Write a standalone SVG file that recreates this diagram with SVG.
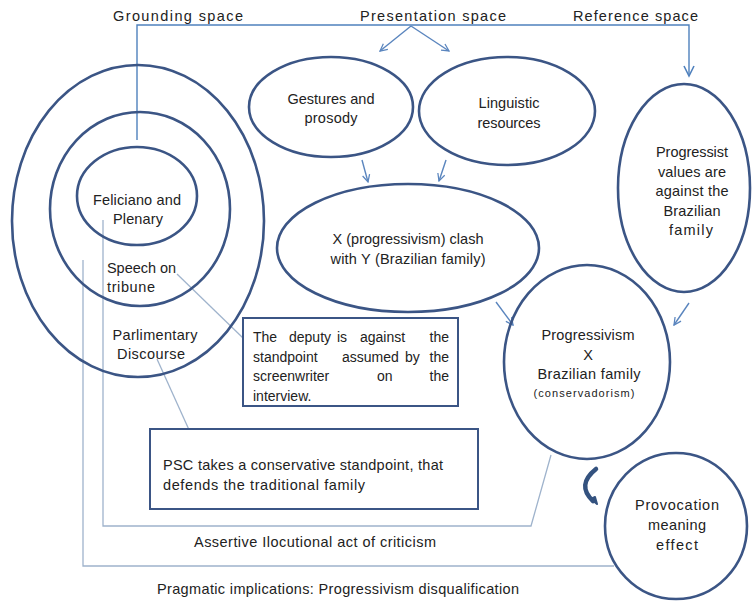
<svg xmlns="http://www.w3.org/2000/svg" width="752" height="601" viewBox="0 0 752 601">
<defs>
<style>
text{font-family:"Liberation Sans",Arial,sans-serif;font-size:14.5px;fill:#222;}
.c{text-anchor:middle;}
.el{fill:none;stroke:#3b5585;stroke-width:2.6;}
.box{fill:#fff;stroke:#3b5585;stroke-width:2;}
.ln{fill:none;stroke:#4f81bd;stroke-width:1.4;}
.lt{fill:none;stroke:#9fb3cc;stroke-width:1.3;}
.ar{fill:none;stroke:#5a85be;stroke-width:1.4;}
.bx{font-size:14px;}
</style>
<marker id="ah" viewBox="0 0 10 10" refX="9" refY="5" markerWidth="9" markerHeight="9" orient="auto" markerUnits="userSpaceOnUse">
<path d="M1,1 L9,5 L1,9" fill="none" stroke="#5a85be" stroke-width="1.4"/>
</marker>
</defs>
<rect width="752" height="601" fill="#fff"/>

<g id="labels-top">
<text x="113" y="21" textLength="130">Grounding space</text>
<text x="360" y="21" textLength="146">Presentation space</text>
<text x="573" y="21" textLength="125">Reference space</text>
</g>

<g id="connectors">
<path class="ln" d="M137,140 V25 H689 V74"/>
<path d="M684,66 L689,76 L694,66" fill="none" stroke="#4f81bd" stroke-width="1.6"/>
<path class="ar" d="M411,26 L380,51" marker-end="url(#ah)"/>
<path class="ar" d="M411,26 L449,51" marker-end="url(#ah)"/>
<path class="ar" d="M362,160 L368,182" marker-end="url(#ah)"/>
<path class="ar" d="M446,160 L439,181" marker-end="url(#ah)"/>
<path class="ar" d="M496,302 L513,325" marker-end="url(#ah)"/>
<path class="ar" d="M689,303 L674,325" marker-end="url(#ah)"/>
<path class="lt" d="M103,220 V526 H531 L551,455"/>
<path class="lt" d="M83,260 V566 H614"/>
<path class="lt" d="M177,274 L243,338"/>
<path class="lt" d="M157,359 L190,432"/>
<path d="M596,469 Q576,485 593,501" fill="none" stroke="#34527f" stroke-width="4.5" stroke-linecap="round"/>
<path d="M591,499 L597,504 L595,497 z" fill="#34527f" stroke="#34527f" stroke-width="2" stroke-linejoin="round"/>
</g>

<g id="grounding-outer">
<ellipse class="el" cx="138" cy="221" rx="126" ry="156"/>
<text class="c" x="155" y="340" textLength="85">Parlimentary</text>
<text class="c" x="151" y="359" textLength="68">Discourse</text>
</g>
<g id="grounding-middle">
<ellipse class="el" cx="140" cy="209" rx="90" ry="97"/>
<text x="107" y="273" textLength="69">Speech on</text>
<text x="107" y="292" textLength="48">tribune</text>
</g>
<g id="grounding-inner">
<ellipse class="el" cx="137" cy="196" rx="60" ry="49" fill="#fff"/>
<text class="c" x="137" y="205" textLength="88">Feliciano and</text>
<text class="c" x="138" y="224" textLength="50">Plenary</text>
</g>

<g id="gestures">
<ellipse class="el" cx="331" cy="107" rx="82" ry="50"/>
<text class="c" x="331" y="104" textLength="87">Gestures and</text>
<text class="c" x="331" y="123" textLength="53">prosody</text>
</g>
<g id="linguistic">
<ellipse class="el" cx="507" cy="111" rx="88" ry="54"/>
<text class="c" x="509" y="108" textLength="61">Linguistic</text>
<text class="c" x="509" y="128" textLength="63">resources</text>
</g>
<g id="clash">
<ellipse class="el" cx="408" cy="248" rx="131" ry="64"/>
<text class="c" x="408" y="244" textLength="151">X (progressivism) clash</text>
<text class="c" x="408" y="264" textLength="155">with Y (Brazilian family)</text>
</g>
<g id="progressist">
<ellipse class="el" cx="684" cy="188" rx="66" ry="104"/>
<text class="c" x="692" y="157" textLength="72">Progressist</text>
<text class="c" x="692" y="177" textLength="68">values are</text>
<text class="c" x="692" y="196" textLength="73">against the</text>
<text class="c" x="692" y="216" textLength="57">Brazilian</text>
<text class="c" x="691" y="235" textLength="44">family</text>
</g>
<g id="progressivism">
<ellipse class="el" cx="587" cy="362" rx="83" ry="97"/>
<text class="c" x="588" y="340" textLength="93">Progressivism</text>
<text class="c" x="588" y="360">X</text>
<text class="c" x="589" y="379" textLength="103">Brazilian family</text>
<text class="c" x="584" y="397" textLength="101" style="font-size:11px">(conservadorism)</text>
</g>
<g id="provocation">
<ellipse class="el" cx="676" cy="526" rx="71" ry="73"/>
<text class="c" x="677" y="510" textLength="84">Provocation</text>
<text class="c" x="677" y="530" textLength="58">meaning</text>
<text class="c" x="677" y="550" textLength="42">effect</text>
</g>

<g id="deputy-box">
<rect class="box" x="243" y="318" width="215" height="88"/>
<text class="bx" y="342"><tspan x="253">The</tspan><tspan x="289">deputy</tspan><tspan x="337">is</tspan><tspan x="360">against</tspan><tspan x="449" text-anchor="end">the</tspan></text>
<text class="bx" y="362"><tspan x="253">standpoint</tspan><tspan x="342">assumed</tspan><tspan x="405">by</tspan><tspan x="449" text-anchor="end">the</tspan></text>
<text class="bx" y="381"><tspan x="253">screenwriter</tspan><tspan x="377">on</tspan><tspan x="449" text-anchor="end">the</tspan></text>
<text class="bx" x="253" y="401">interview.</text>
</g>
<g id="psc-box">
<rect class="box" x="150" y="429" width="328" height="80"/>
<text x="163" y="470" textLength="280">PSC takes a conservative standpoint, that</text>
<text x="163" y="490" textLength="202">defends the traditional family</text>
</g>

<g id="labels-bottom">
<text x="194" y="547" textLength="242">Assertive Ilocutional act of criticism</text>
<text x="157" y="594" textLength="362">Pragmatic implications: Progressivism disqualification</text>
</g>
</svg>
